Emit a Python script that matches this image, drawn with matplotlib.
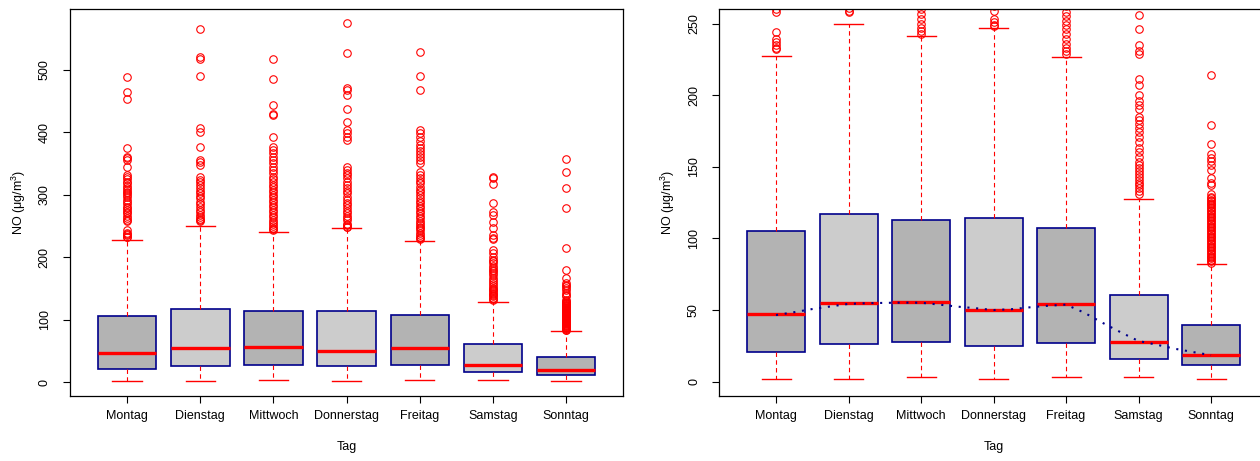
import numpy as np
import matplotlib.pyplot as plt

plt.rcParams['font.family'] = ['Liberation Sans', 'DejaVu Sans']
plt.rcParams['mathtext.default'] = 'regular'

days = ['Montag', 'Dienstag', 'Mittwoch', 'Donnerstag', 'Freitag', 'Samstag', 'Sonntag']

# box statistics per weekday (NO in ug/m3)
med = [47, 55, 55.5, 50, 54.5, 28, 18.5]
q1 = [21, 26, 27.4, 25, 27, 15.6, 11.4]
q3 = [105.5, 117.3, 113.2, 114.1, 107.6, 60.4, 39.5]
wlo = [1.9, 2.1, 3.3, 1.6, 3.5, 3.3, 2.1]
whi = [227.2, 249.8, 241, 247, 226.5, 127.6, 81.8]

out_mo = [232, 233, 235, 237, 239, 244, 258, 260, 263, 266, 270, 273, 276, 279, 281, 285,
          289, 292, 296, 299, 302, 305, 308, 311, 314, 318, 321, 325, 328, 332, 345, 355,
          358, 361, 375, 453, 465, 488]
out_di = [258, 259, 261, 264, 268, 272, 276, 280, 285, 289, 294, 298, 302, 306, 311, 316,
          320, 324, 329, 347, 352, 356, 376, 401, 406, 490, 517, 521, 565]
out_mi = [243, 245, 247, 250, 253, 257, 260, 264, 268, 272, 276, 280, 284, 288, 292, 296,
          300, 304, 308, 312, 316, 320, 325, 329, 335, 340, 345, 350, 356, 361, 366, 372,
          377, 393, 428, 430, 443, 486, 517]
out_do = [248, 249, 251, 253, 259, 262, 266, 270, 274, 278, 283, 287, 292, 297, 302, 306,
          311, 316, 321, 326, 331, 335, 340, 345, 387, 393, 398, 404, 416, 438, 460, 468,
          471, 527, 575]
out_fr = [229, 231, 233, 236, 239, 243, 246, 249, 252, 255, 258, 262, 266, 270, 274, 278,
          282, 286, 290, 295, 300, 304, 308, 313, 318, 322, 327, 331, 336, 350, 355, 360,
          365, 370, 375, 380, 386, 392, 398, 403, 468, 490, 529]
out_sa = [131, 133, 135, 137, 139, 141, 143, 145, 147, 149, 151, 153, 157, 160, 163, 167,
          171, 174, 177, 180, 183, 185, 190, 193, 196, 200, 207, 211, 229, 231, 235, 246,
          256, 268, 272, 286, 317, 326, 328]
out_so = [83, 84, 85, 86, 87, 88, 89, 90, 91, 92, 93, 94, 95, 96, 97, 98, 99, 100, 101,
          102, 103, 104, 105, 106, 107, 108, 109, 110, 111, 112, 113, 114, 115, 116, 117,
          118, 119, 120, 121, 122, 123, 124, 125, 126, 127, 128, 129, 131, 137, 139, 142,
          148, 151, 154, 156, 159, 166, 179, 214, 278, 311, 337, 357]
outliers = [out_mo, out_di, out_mi, out_do, out_fr, out_sa, out_so]

# smoothed trend through the medians
trend_x = [1, 1.25, 1.5, 1.75, 2, 2.25, 2.5, 2.75, 3, 3.25, 3.5, 3.75, 4, 4.25, 4.5,
           4.75, 5, 5.25, 5.5, 5.75, 6, 6.25, 6.5, 6.75, 7]
trend_y = [46.5, 48.5, 50.7, 52.5, 54.3, 54.8, 55.0, 55.2, 55.1, 53.8, 52.4, 51.3, 50.0,
           50.6, 51.9, 53.0, 53.8, 48.2, 41.2, 34.6, 28.4, 25.8, 23.0, 20.7, 18.5]

fills = ['#B3B3B3', '#CCCCCC'] * 4

stats = []
for i in range(7):
    stats.append(dict(med=med[i], q1=q1[i], q3=q3[i], whislo=wlo[i], whishi=whi[i],
                      fliers=outliers[i], label=days[i]))


def draw(ax, ylim, yticks):
    bp = ax.bxp(stats, positions=range(1, 8), widths=0.8, patch_artist=True,
                boxprops=dict(edgecolor='#00008B', linewidth=1.2),
                medianprops=dict(color='red', linewidth=2.4),
                whiskerprops=dict(color='red', linewidth=0.8, linestyle=(0, (4, 3))),
                capprops=dict(color='red', linewidth=1.0),
                flierprops=dict(marker='o', markerfacecolor='none', markeredgecolor='red',
                                markersize=5.4, markeredgewidth=0.8))
    for patch, c in zip(bp['boxes'], fills):
        patch.set_facecolor(c)
    ax.set_xlim(0.22, 7.78)
    ax.set_ylim(*ylim)
    ax.set_yticks(yticks)
    ax.set_yticklabels([str(t) for t in yticks], rotation=90, va='center')
    ax.tick_params(axis='both', direction='out', length=5, width=0.8, labelsize=9)
    ax.tick_params(axis='x', pad=5)
    ax.tick_params(axis='y', pad=9)
    ax.set_xlabel('Tag', fontsize=9, labelpad=14)
    ax.set_ylabel(r'NO ($\mu$g/m$^3$)', fontsize=9, labelpad=8)
    for s in ax.spines.values():
        s.set_linewidth(0.9)


fig = plt.figure(figsize=(12.6, 4.61), dpi=100)
ax1 = fig.add_axes([0.0556, 0.141, 0.439, 0.839])
ax2 = fig.add_axes([0.571, 0.141, 0.435, 0.839])

draw(ax1, (-22.4, 597), [0, 100, 200, 300, 400, 500])
draw(ax2, (-10, 260), [0, 50, 100, 150, 200, 250])
ax2.plot(trend_x, trend_y, color='#00008B', linewidth=1.5, linestyle=(0, (1, 3.2)), zorder=5)

fig.savefig('out.png', dpi=100)
